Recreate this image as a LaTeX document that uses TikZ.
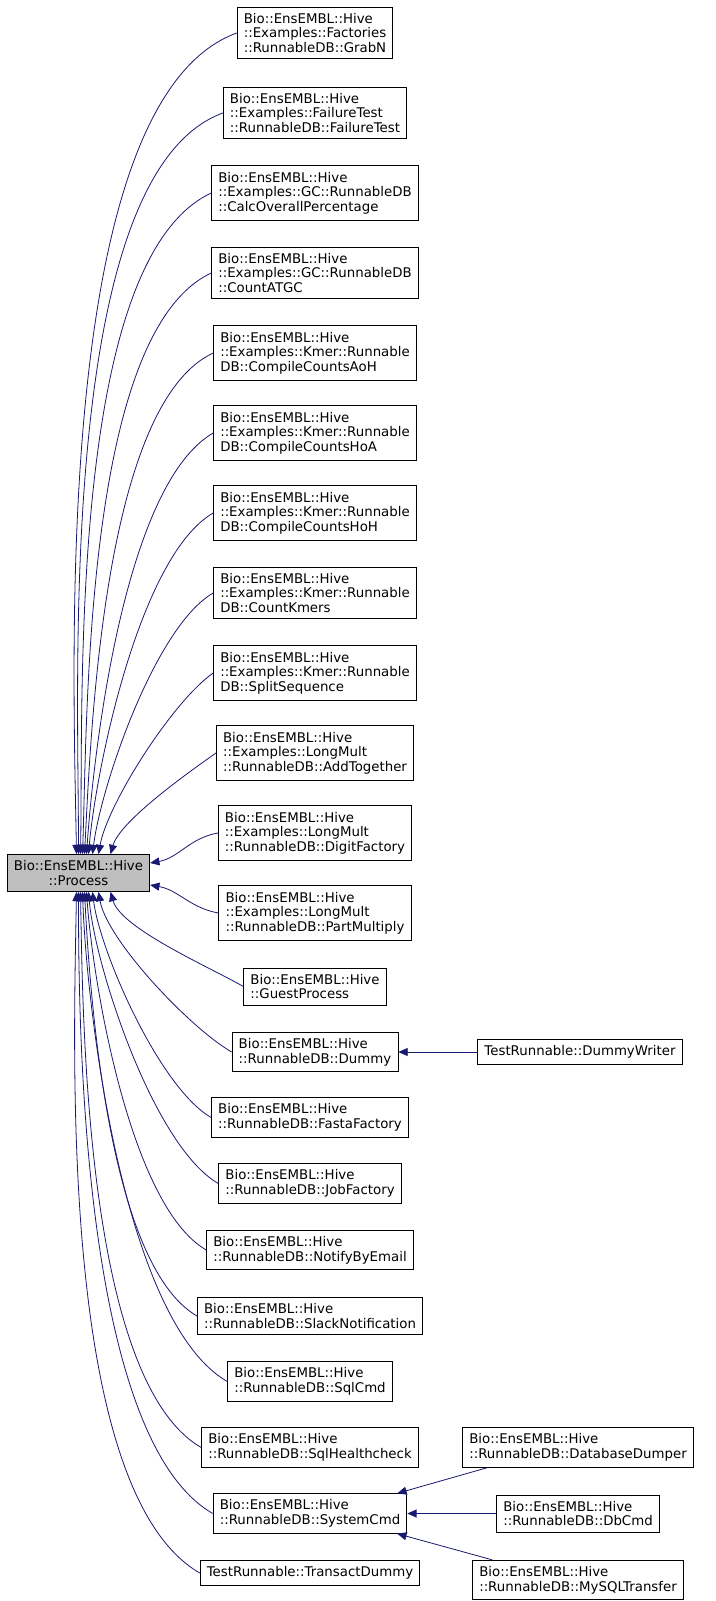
\documentclass[tikz,border=0pt]{standalone}
\usepackage{fontspec}
\setmainfont{DejaVu Sans}
\usetikzlibrary{arrows.meta,calc}
\definecolor{edgeblue}{RGB}{25,25,112}
\tikzset{
  cls/.style={draw=black,fill=white,line width=0.6pt,align=left,inner xsep=5pt,inner ysep=4.5pt,
    font=\fontsize{10pt}{11pt}\selectfont},
  base/.style={cls,fill=black!25,align=center},
  edge/.style={draw=edgeblue,line width=0.6pt,{Triangle[length=7pt,width=6pt]}-},
}
\newcommand{\bh}{Bio::EnsEMBL::Hive}
\begin{document}
\begin{tikzpicture}[x=0.75pt,y=-0.75pt]
\useasboundingbox (0,0) rectangle (715,1601);
\node[base] (proc) at (78.5,873) {\bh\\::Process};
% upper column
\node[cls] (grabn) at (315,33) {\bh\\::Examples::Factories\\::RunnableDB::GrabN};
\node[cls] (fail) at (315,113) {\bh\\::Examples::FailureTest\\::RunnableDB::FailureTest};
\node[cls] (calc) at (315,193) {\bh\\::Examples::GC::RunnableDB\\::CalcOverallPercentage};
\node[cls] (atgc) at (315,273) {\bh\\::Examples::GC::RunnableDB\\::CountATGC};
\node[cls] (aoh) at (315,353) {\bh\\::Examples::Kmer::Runnable\\DB::CompileCountsAoH};
\node[cls] (hoa) at (315,433) {\bh\\::Examples::Kmer::Runnable\\DB::CompileCountsHoA};
\node[cls] (hoh) at (315,513) {\bh\\::Examples::Kmer::Runnable\\DB::CompileCountsHoH};
\node[cls] (kmers) at (315,593) {\bh\\::Examples::Kmer::Runnable\\DB::CountKmers};
\node[cls] (split) at (315,673) {\bh\\::Examples::Kmer::Runnable\\DB::SplitSequence};
\node[cls] (addt) at (315,753) {\bh\\::Examples::LongMult\\::RunnableDB::AddTogether};
\node[cls] (digit) at (315,833) {\bh\\::Examples::LongMult\\::RunnableDB::DigitFactory};
\node[cls] (partm) at (315,913) {\bh\\::Examples::LongMult\\::RunnableDB::PartMultiply};
% lower column
\node[cls] (guest) at (315,986.5) {\bh\\::GuestProcess};
\node[cls] (dummy) at (315,1052) {\bh\\::RunnableDB::Dummy};
\node[cls] (fasta) at (310,1117.5) {\bh\\::RunnableDB::FastaFactory};
\node[cls] (jobf) at (310,1183.5) {\bh\\::RunnableDB::JobFactory};
\node[cls] (notify) at (310,1250) {\bh\\::RunnableDB::NotifyByEmail};
\node[cls] (slack) at (310,1316) {\bh\\::RunnableDB::SlackNotification};
\node[cls] (sqlcmd) at (310,1381.5) {\bh\\::RunnableDB::SqlCmd};
\node[cls] (sqlhc) at (310,1447.5) {\bh\\::RunnableDB::SqlHealthcheck};
\node[cls] (syscmd) at (310,1513.5) {\bh\\::RunnableDB::SystemCmd};
\node[cls] (transact) at (310,1573) {TestRunnable::TransactDummy};
% right column
\node[cls] (writer) at (580,1052) {TestRunnable::DummyWriter};
\node[cls] (dumper) at (578,1447.5) {\bh\\::RunnableDB::DatabaseDumper};
\node[cls] (dbcmd) at (578,1513.5) {\bh\\::RunnableDB::DbCmd};
\node[cls] (mysql) at (578,1580) {\bh\\::RunnableDB::MySQLTransfer};
% edges into the base class
\foreach \c/\dx/\o in {grabn/-2/200,fail/0/200,calc/2/205,atgc/4/205,aoh/6/205,hoa/8/210,hoh/10/210,kmers/14/210,split/20/215,addt/32/215}
  \draw[edge] ($(proc.north)+(\dx,0)$) to[out=90-\dx/2,in=\o,looseness=0.6] (\c.west);
\draw[edge] ($(proc.east)+(0,-10)$) to[out=10,in=190] (digit.west);
\draw[edge] ($(proc.east)+(0,12)$) to[out=-10,in=170] (partm.west);
\foreach \c/\dx/\i in {guest/32/150,dummy/20/150,fasta/14/150,jobf/10/150,notify/8/150,slack/6/150,sqlcmd/4/150,sqlhc/2/150,syscmd/0/150,transact/-2/150}
  \draw[edge] ($(proc.south)+(\dx,0)$) to[out=-90+\dx/2,in=\i,looseness=0.6] (\c.west);
% second level
\draw[edge] (dummy.east) -- (writer.west);
\draw[edge] ($(syscmd.north east)+(-10,0)$) -- ($(dumper.south west)+(25,0)$);
\draw[edge] (syscmd.east) -- (dbcmd.west);
\draw[edge] ($(syscmd.south east)+(-10,0)$) -- ($(mysql.north west)+(20,0)$);
\end{tikzpicture}
\end{document}
